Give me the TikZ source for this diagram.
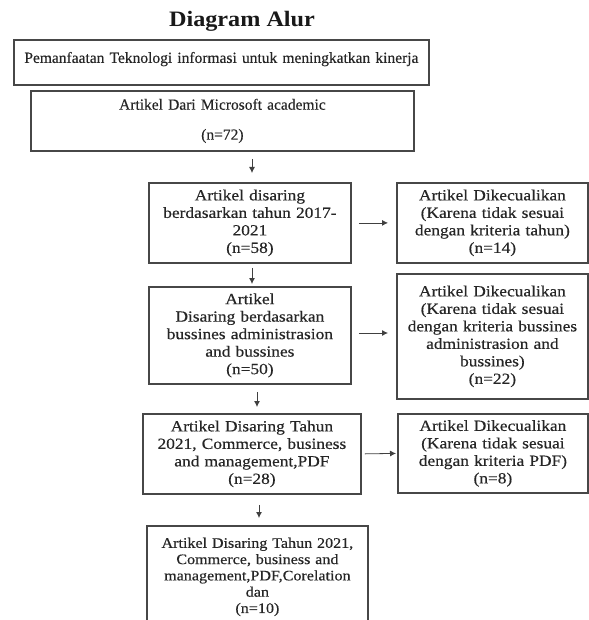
\documentclass[tikz,border=0pt]{standalone}
\usepackage{fontspec}
\setmainfont{Liberation Serif}
\newfontfamily\topfontfam[FakeBold=0.4]{Liberation Serif}
\newfontfamily\widefont[FakeStretch=1.12,FakeBold=0.4]{Liberation Serif}
\newfontfamily\widefontb[FakeStretch=1.11,FakeBold=0.4]{Liberation Serif}
\newfontfamily\titlefont[FakeStretch=1.1]{Liberation Serif Bold}
\usetikzlibrary{arrows.meta}
\tikzset{
  box/.style={draw=black!72, line width=1.8pt, anchor=north west, align=center,
    inner xsep=4pt, inner ysep=0pt, text=black!85},
  topfont/.style={font=\topfontfam\fontsize{15.5}{17.5}\selectfont},
  lowfont/.style={font=\widefont\fontsize{15.5}{17.5}\selectfont},
  lastfont/.style={font=\widefontb\fontsize{14.5}{16.3}\selectfont},
  arr/.style={draw=black!75, line width=0.8pt, -{Latex[length=6pt,width=6pt]}},
}
\begin{document}
\begin{tikzpicture}[x=1pt,y=-1pt]
\useasboundingbox (0,0) rectangle (588,620);
\node[anchor=base, text=black!90, font=\titlefont\fontsize{22}{24}\selectfont] (title) at (242,27) {Diagram Alur};

\node[box, topfont, minimum width=415pt, minimum height=45pt, text width=407pt,
  text height=11pt, text depth=10pt] (b1) at (13,39)
  {Pemanfaatan Teknologi informasi untuk meningkatkan kinerja};
\node[box, topfont, minimum width=383pt, minimum height=60pt, text width=375pt] (b2) at (30,90)
  {Artikel Dari Microsoft academic\\[12.5pt](n=72)};

\node[box, lowfont, minimum width=202pt, minimum height=80pt, text width=194pt] (b3) at (148,182)
  {Artikel disaring\\berdasarkan tahun 2017-\\2021\\(n=58)};
\node[box, lowfont, minimum width=191pt, minimum height=80pt, text width=183pt] (r1) at (396,182)
  {Artikel Dikecualikan\\(Karena tidak sesuai\\dengan kriteria tahun)\\(n=14)};

\node[box, lowfont, minimum width=202pt, minimum height=97pt, text width=194pt] (b4) at (148,286)
  {Artikel\\Disaring berdasarkan\\bussines administrasion\\and bussines\\(n=50)};
\node[box, lowfont, minimum width=191pt, minimum height=125pt, text width=183pt] (r2) at (396,273)
  {Artikel Dikecualikan\\(Karena tidak sesuai\\dengan kriteria bussines\\administrasion and\\bussines)\\(n=22)};

\node[box, lowfont, minimum width=218pt, minimum height=80pt, text width=210pt] (b5) at (142,413)
  {Artikel Disaring Tahun\\2021, Commerce, business\\and management,PDF\\(n=28)};
\node[box, lowfont, minimum width=190pt, minimum height=79pt, text width=182pt] (r3) at (397,413)
  {Artikel Dikecualikan\\(Karena tidak sesuai\\dengan kriteria PDF)\\(n=8)};

\node[box, lastfont, minimum width=221pt, minimum height=102pt, text width=213pt] (b6) at (146,525)
  {Artikel Disaring Tahun 2021,\\Commerce, business and\\management,PDF,Corelation\\dan\\(n=10)};

% vertical connectors
\coordinate (c1) at (252,0);
\coordinate (c2) at (252,0);
\coordinate (c3) at (257,0);
\coordinate (c4) at (259,0);
\draw[arr, shorten <=7pt, shorten >=9pt] (c1 |- b2.south) -- (c1 |- b3.north);
\draw[arr, shorten <=4pt, shorten >=2pt] (c2 |- b3.south) -- (c2 |- b4.north);
\draw[arr, shorten <=7pt, shorten >=6pt] (c3 |- b4.south) -- (c3 |- b5.north);
\draw[arr, shorten <=10pt, shorten >=7pt] (c4 |- b5.south) -- (c4 |- b6.north);

% horizontal connectors
\coordinate (row2) at (0,333);
\draw[arr, shorten <=7pt, shorten >=8pt] (b3.east) -- (r1.west);
\draw[arr, shorten <=7pt, shorten >=8pt] (b4.east |- row2) -- (r2.west |- row2);
\draw[arr, shorten <=3pt, shorten >=1pt] (b5.east) -- (r3.west);
\end{tikzpicture}
\end{document}
